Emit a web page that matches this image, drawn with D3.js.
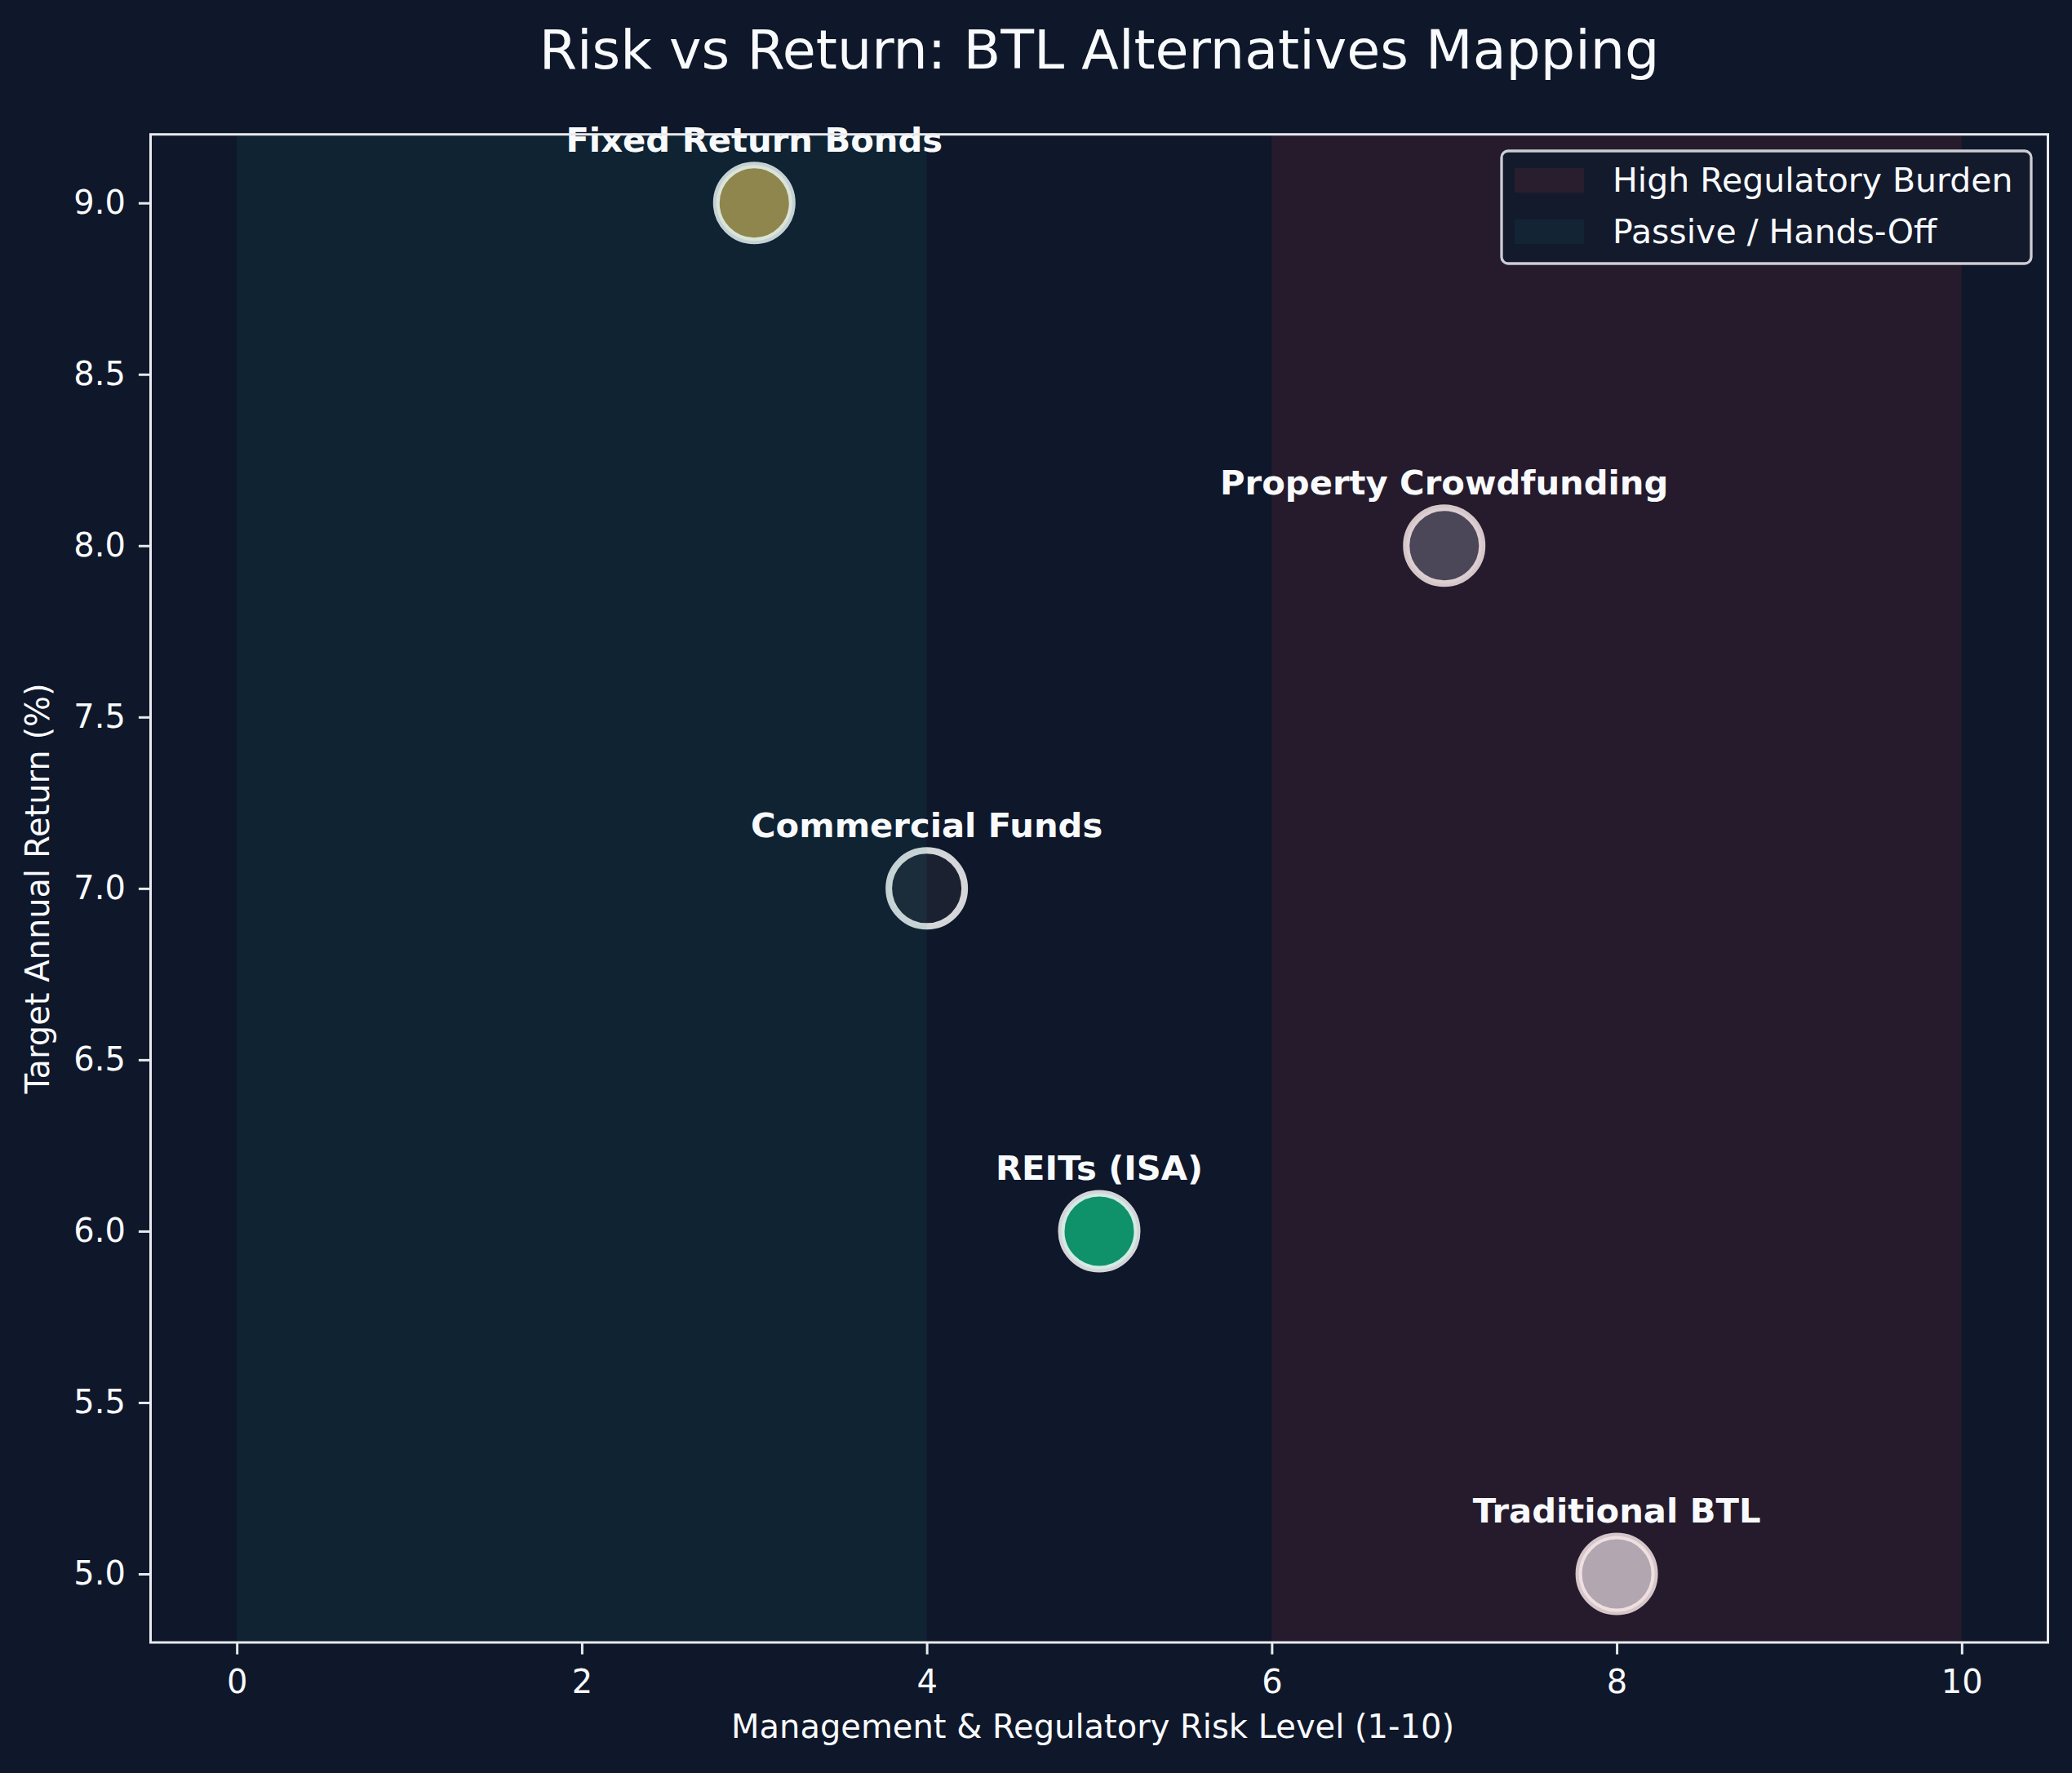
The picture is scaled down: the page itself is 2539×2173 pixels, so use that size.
<!DOCTYPE html>
<html>
<head>
<meta charset="utf-8">
<script src="https://cdn.jsdelivr.net/npm/d3@7"></script>
<style>
  html, body { margin: 0; padding: 0; background: #0f172a; }
  svg { display: block; }
  text { font-family: "DejaVu Sans", sans-serif; fill: #f8fafc; }
</style>
</head>
<body>
<svg id="chart" width="2539" height="2173"></svg>
<script>
// ---- data ----
const names = ["Traditional BTL", "REITs (ISA)", "Property Crowdfunding", "Commercial Funds", "Fixed Return Bonds"];
const riskLevel = [8, 5, 7, 4, 3];
const targetReturn = [5.0, 6.0, 8.0, 7.0, 9.0];
const xTicks = [0, 2, 4, 6, 8, 10];
const yTicks = [5.0, 5.5, 6.0, 6.5, 7.0, 7.5, 8.0, 8.5, 9.0];
const zoneLabels = ["High Regulatory Burden", "Passive / Hands-Off"];
const zoneStart = [6, 0];
const zoneEnd = [10, 4];
const title = "Risk vs Return: BTL Alternatives Mapping";
const xLabel = "Management & Regulatory Risk Level (1-10)";
const yLabel = "Target Annual Return (%)";

// ---- styles ----
const pointColors = ["#b5bcc5", "#10996e", "#3d4a5f", "#1e2233", "#a08948"];
const zoneColors = ["#ef4444", "#14b8a6"];
const zoneOpacity = [0.10, 0.08];

const W = 2539, H = 2173;
const M = { left: 184.5, right: 2509.5, top: 164.7, bottom: 2013 };

const svg = d3.select("#chart");
svg.append("rect").attr("width", W).attr("height", H).attr("fill", "#0f172a");

const x = d3.scaleLinear().domain([-0.5, 10.5]).range([M.left, M.right]);
const y = d3.scaleLinear().domain([4.8, 9.2]).range([M.bottom, M.top]);

const plot = svg.append("g");
const clipId = "clip";
svg.append("defs").append("clipPath").attr("id", clipId)
  .append("rect").attr("x", M.left).attr("y", M.top)
  .attr("width", M.right - M.left).attr("height", M.bottom - M.top);

// points
const pts = names.map((n, i) => ({ name: n, x: riskLevel[i], y: targetReturn[i], c: pointColors[i] }));
plot.selectAll("circle.pt").data(pts).enter().append("circle")
  .attr("class", "pt")
  .attr("cx", d => x(d.x)).attr("cy", d => y(d.y))
  .attr("r", 46.5)
  .attr("fill", d => d.c)
  .attr("fill-opacity", 0.95)
  .attr("stroke", "#ffffff")
  .attr("stroke-opacity", 0.82)
  .attr("stroke-width", 8);

// zones (drawn over points, as in the reference)
const zones = zoneLabels.map((l, i) => ({ label: l, a: zoneStart[i], b: zoneEnd[i], c: zoneColors[i], o: zoneOpacity[i] }));
plot.selectAll("rect.zone").data(zones).enter().append("rect")
  .attr("class", "zone")
  .attr("clip-path", `url(#${clipId})`)
  .attr("x", d => x(d.a)).attr("width", d => x(d.b) - x(d.a))
  .attr("y", M.top).attr("height", M.bottom - M.top)
  .attr("fill", d => d.c).attr("fill-opacity", d => d.o);

// annotations
plot.selectAll("text.lbl").data(pts).enter().append("text")
  .attr("class", "lbl")
  .attr("x", d => x(d.x)).attr("y", d => y(d.y) - 63)
  .attr("text-anchor", "middle")
  .attr("font-size", 41.7)
  .attr("font-weight", "bold")
  .text(d => d.name);

// axes
const axisColor = "#e8eaee";
const gx = svg.append("g").attr("transform", `translate(0,${M.bottom})`)
  .call(d3.axisBottom(x).tickValues(xTicks).tickFormat(d3.format("d")).tickSize(14.6).tickPadding(19));
const gy = svg.append("g").attr("transform", `translate(${M.left},0)`)
  .call(d3.axisLeft(y).tickValues(yTicks).tickFormat(d3.format(".1f")).tickSize(14.6).tickPadding(16));
[gx, gy].forEach(g => {
  g.select(".domain").remove();
  g.selectAll(".tick line").attr("stroke", axisColor).attr("stroke-width", 3);
  g.selectAll(".tick text").attr("fill", "#f8fafc").attr("font-size", 40)
    .attr("font-family", "DejaVu Sans, sans-serif");
});

// frame
svg.append("rect")
  .attr("x", M.left).attr("y", M.top)
  .attr("width", M.right - M.left).attr("height", M.bottom - M.top)
  .attr("fill", "none").attr("stroke", axisColor).attr("stroke-width", 3);

// axis labels & title
svg.append("text").attr("x", (M.left + M.right) / 2 - 8).attr("y", 2130)
  .attr("text-anchor", "middle").attr("font-size", 40).text(xLabel);
svg.append("text")
  .attr("transform", `translate(60,${(M.top + M.bottom) / 2}) rotate(-90)`)
  .attr("text-anchor", "middle").attr("font-size", 40).text(yLabel);
svg.append("text").attr("x", (M.left + M.right) / 2).attr("y", 84)
  .attr("text-anchor", "middle").attr("font-size", 66.7).text(title);

// legend
const lg = svg.append("g");
lg.append("rect").attr("x", 1840).attr("y", 185).attr("width", 649).attr("height", 138)
  .attr("rx", 8).attr("ry", 8)
  .attr("fill", "#131a2c").attr("stroke", "#cdcdd4").attr("stroke-width", 3.3);
const items = lg.selectAll("g.item").data(zones).enter().append("g")
  .attr("transform", (d, i) => `translate(0,${i * 63})`);
items.append("rect").attr("x", 1856).attr("y", 206).attr("width", 85).attr("height", 30)
  .attr("fill", d => d.c).attr("fill-opacity", d => d.o);
items.append("text").attr("x", 1976).attr("y", 235).attr("font-size", 41).text(d => d.label);
</script>
</body>
</html>
